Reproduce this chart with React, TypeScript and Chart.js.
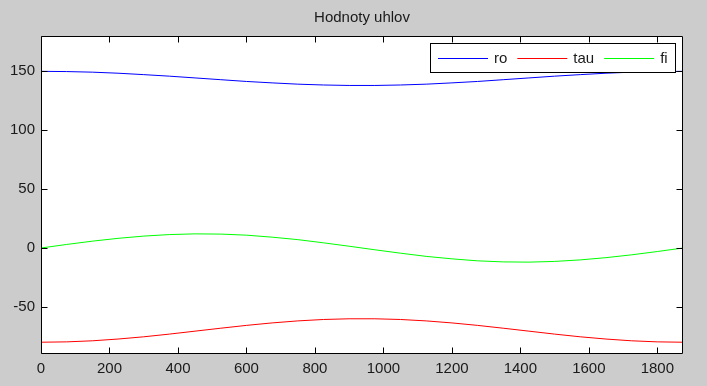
import React, { useEffect, useRef } from "react";
import { Chart, registerables } from "chart.js";

Chart.register(...registerables);

const chartTitle = "Hodnoty uhlov";
const seriesNames = ["ro", "tau", "fi"];
const seriesColors = ["#0000ff", "#ff0000", "#00ff00"];

const xValues = [
  0, 75, 150, 225, 300, 375, 450, 525, 600, 675, 750, 825, 900, 975, 1050,
  1125, 1200, 1275, 1350, 1425, 1500, 1575, 1650, 1725, 1800, 1875,
];
const roValues = [
  150.0, 149.8, 149.3, 148.4, 147.2, 145.9, 144.4, 142.9, 141.4, 140.2, 139.1,
  138.4, 138.0, 138.0, 138.4, 139.1, 140.2, 141.4, 142.9, 144.4, 145.9, 147.2,
  148.4, 149.3, 149.8, 150.0,
];
const tauValues = [
  -80.0, -79.7, -78.8, -77.3, -75.4, -73.1, -70.6, -68.1, -65.7, -63.6, -61.9,
  -60.7, -60.1, -60.1, -60.7, -61.9, -63.6, -65.7, -68.1, -70.6, -73.1, -75.4,
  -77.3, -78.8, -79.7, -80.0,
];
const fiValues = [
  0.0, 3.0, 5.8, 8.2, 10.1, 11.4, 12.0, 11.8, 10.9, 9.2, 7.1, 4.4, 1.5, -1.5,
  -4.4, -7.1, -9.2, -10.9, -11.8, -12.0, -11.4, -10.1, -8.2, -5.8, -3.0, 0.0,
];

const xTicks = [0, 200, 400, 600, 800, 1000, 1200, 1400, 1600, 1800];
const yTicks = [-50, 0, 50, 100, 150];
const xMin = 0;
const xMax = 1875;
const yMin = -90;
const yMax = 180;

const FONT = "Liberation Sans, Arial, sans-serif";

const matlabPlugin = {
  id: "matlabFrame",
  beforeDatasetsDraw(chart: any) {
    const { ctx, chartArea } = chart;
    ctx.save();
    ctx.fillStyle = "#ffffff";
    ctx.fillRect(chartArea.left, chartArea.top, chartArea.right - chartArea.left, chartArea.bottom - chartArea.top);
    ctx.restore();
  },
  afterDatasetsDraw(chart: any) {
    const { ctx, chartArea } = chart;
    const xs = chart.scales.x;
    const ys = chart.scales.y;
    const L = Math.round(chartArea.left) + 0.5;
    const R = Math.round(chartArea.right) - 0.5;
    const T = Math.round(chartArea.top) + 0.5;
    const B = Math.round(chartArea.bottom) - 0.5;
    const tl = 6;
    ctx.save();
    ctx.strokeStyle = "#000000";
    ctx.lineWidth = 1;
    ctx.beginPath();
    ctx.rect(L, T, R - L, B - T);
    for (const v of xTicks) {
      const px = Math.round(xs.getPixelForValue(v)) + 0.5;
      ctx.moveTo(px, B);
      ctx.lineTo(px, B - tl);
      ctx.moveTo(px, T);
      ctx.lineTo(px, T + tl);
    }
    for (const v of yTicks) {
      const py = Math.round(ys.getPixelForValue(v)) + 0.5;
      ctx.moveTo(L, py);
      ctx.lineTo(L + tl, py);
      ctx.moveTo(R, py);
      ctx.lineTo(R - tl, py);
    }
    ctx.stroke();

    // legend
    ctx.font = `15px ${FONT}`;
    const pad = 8;
    const lineLen = 50;
    const gapText = 6;
    const gapItem = 10;
    let width = pad * 2;
    seriesNames.forEach((n, i) => {
      width += lineLen + gapText + ctx.measureText(n).width;
      if (i < seriesNames.length - 1) width += gapItem;
    });
    const boxH = 30;
    const boxR = Math.round(chartArea.right) - 7;
    const boxL = Math.round(boxR - width);
    const boxT = Math.round(chartArea.top) + 7;
    ctx.fillStyle = "#ffffff";
    ctx.fillRect(boxL, boxT, boxR - boxL, boxH);
    ctx.strokeStyle = "#000000";
    ctx.strokeRect(boxL + 0.5, boxT + 0.5, boxR - boxL - 1, boxH - 1);
    const cy = boxT + boxH / 2 + 0.5;
    let x = boxL + pad;
    ctx.textBaseline = "middle";
    ctx.textAlign = "left";
    seriesNames.forEach((n, i) => {
      ctx.strokeStyle = seriesColors[i];
      ctx.beginPath();
      ctx.moveTo(x, Math.floor(cy) + 0.5);
      ctx.lineTo(x + lineLen, Math.floor(cy) + 0.5);
      ctx.stroke();
      x += lineLen + gapText;
      ctx.fillStyle = "#1a1a1a";
      ctx.fillText(n, x, cy);
      x += ctx.measureText(n).width + gapItem;
    });

    // title
    ctx.font = `15px ${FONT}`;
    ctx.fillStyle = "#1a1a1a";
    ctx.textAlign = "center";
    ctx.textBaseline = "middle";
    ctx.fillText(chartTitle, (chartArea.left + chartArea.right) / 2, 18);
    ctx.restore();
  },
};

export default function App() {
  const canvasRef = useRef<HTMLCanvasElement | null>(null);

  useEffect(() => {
    const canvas = canvasRef.current;
    if (!canvas) return;
    const allValues = [roValues, tauValues, fiValues];
    const chart = new Chart(canvas, {
      type: "line",
      data: {
        datasets: seriesNames.map((name, i) => ({
          label: name,
          data: xValues.map((x, j) => ({ x, y: allValues[i][j] })),
          borderColor: seriesColors[i],
          backgroundColor: seriesColors[i],
          borderWidth: 1,
          pointRadius: 0,
          tension: 0,
          fill: false,
        })),
      },
      options: {
        animation: false,
        responsive: false,
        maintainAspectRatio: false,
        events: [],
        layout: { padding: { top: 36, right: 24, left: 0, bottom: 0 } },
        plugins: {
          legend: { display: false },
          title: { display: false },
          tooltip: { enabled: false },
        },
        scales: {
          x: {
            type: "linear",
            min: xMin,
            max: xMax,
            grid: { display: false, drawTicks: false },
            border: { display: false },
            afterBuildTicks: (scale: any) => {
              scale.ticks = xTicks.map((v) => ({ value: v }));
            },
            afterFit: (scale: any) => {
              scale.height = 32;
            },
            ticks: {
              autoSkip: false,
              maxRotation: 0,
              padding: 6,
              color: "#1a1a1a",
              font: { family: FONT, size: 15 },
              callback: (v: any) => String(v),
            },
          },
          y: {
            type: "linear",
            min: yMin,
            max: yMax,
            grid: { display: false, drawTicks: false },
            border: { display: false },
            afterBuildTicks: (scale: any) => {
              scale.ticks = yTicks.map((v) => ({ value: v }));
            },
            afterFit: (scale: any) => {
              scale.width = 41;
            },
            ticks: {
              autoSkip: false,
              padding: 6,
              color: "#1a1a1a",
              font: { family: FONT, size: 15 },
              callback: (v: any) => String(v),
            },
          },
        },
      },
      plugins: [matlabPlugin],
    });
    return () => chart.destroy();
  }, []);

  return (
    <div
      style={{
        position: "absolute",
        left: 0,
        top: 0,
        width: 707,
        height: 386,
        background: "#cccccc",
      }}
    >
      <canvas ref={canvasRef} width={707} height={386} style={{ width: 707, height: 386, display: "block" }} />
    </div>
  );
}
